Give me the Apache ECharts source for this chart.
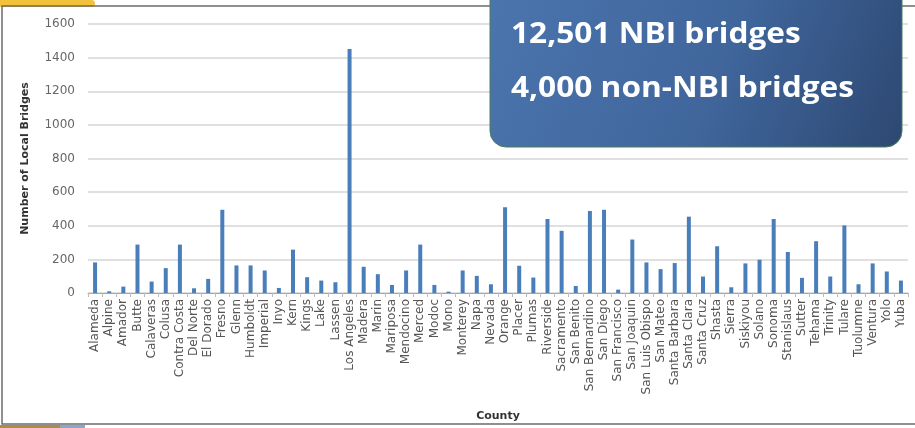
<!DOCTYPE html>
<html>
<head>
<meta charset="utf-8">
<script src="https://cdn.jsdelivr.net/npm/echarts@6/dist/echarts.min.js"></script>
<style>html,body{margin:0;padding:0;background:#fff;}#c{width:915px;height:428px;}</style>
</head>
<body>
<div id="c"></div>
<script>
const counties = ["Alameda","Alpine","Amador","Butte","Calaveras","Colusa","Contra Costa","Del Norte","El Dorado","Fresno","Glenn","Humboldt","Imperial","Inyo","Kern","Kings","Lake","Lassen","Los Angeles","Madera","Marin","Mariposa","Mendocino","Merced","Modoc","Mono","Monterey","Napa","Nevada","Orange","Placer","Plumas","Riverside","Sacramento","San Benito","San Bernardino","San Diego","San Francisco","San Joaquin","San Luis Obispo","San Mateo","Santa Barbara","Santa Clara","Santa Cruz","Shasta","Sierra","Siskiyou","Solano","Sonoma","Stanislaus","Sutter","Tehama","Trinity","Tulare","Tuolumne","Ventura","Yolo","Yuba"];
const localBridges = [182,10,38,288,68,148,288,28,84,495,164,164,134,30,258,94,74,64,1452,156,112,48,134,288,48,8,134,102,52,510,162,92,440,370,42,488,495,20,318,182,142,178,454,98,278,34,176,198,440,244,90,308,98,402,52,176,128,74];
const yTicks = [0,200,400,600,800,1000,1200,1400,1600];
const boxLines = ["12,501 NBI bridges","4,000 non-NBI bridges"];
const yName = "Number of Local Bridges";
const xName = "County";

const chart = echarts.init(document.getElementById('c'), null, {renderer:'canvas'});
chart.setOption({
  animation:false,
  backgroundColor:'#fff',
  grid:{left:88,right:7,top:24,bottom:135,containLabel:false},
  xAxis:{
    type:'category',
    data:counties,
    name:xName,
    nameLocation:'middle',
    nameGap:118,
    nameTextStyle:{fontFamily:'DejaVu Sans',fontWeight:'bold',fontSize:11,color:'#333'},
    axisLine:{lineStyle:{color:'#a6a6a6',width:1}},
    axisTick:{show:true,length:4,lineStyle:{color:'#bbb'}},
    axisLabel:{interval:0,rotate:90,fontFamily:'DejaVu Sans',fontSize:12,color:'#555',margin:6}
  },
  yAxis:{
    type:'value',
    min:yTicks[0],
    max:yTicks[yTicks.length-1],
    interval:yTicks[1]-yTicks[0],
    name:yName,
    nameLocation:'middle',
    nameGap:57,
    nameTextStyle:{fontFamily:'DejaVu Sans',fontWeight:'bold',fontSize:11,color:'#333'},
    axisLine:{show:false},
    axisTick:{show:false},
    axisLabel:{fontFamily:'DejaVu Sans',fontSize:12,color:'#666',margin:13,formatter:function(v){return String(v);}},
    splitLine:{lineStyle:{color:'#d6d6d6',width:1.6}}
  },
  series:[{
    type:'bar',
    data:localBridges,
    barWidth:4,
    itemStyle:{color:'#4a7ebb'}
  }],
  graphic:[
    {type:'rect',silent:true,z:0,shape:{x:0,y:0,width:95,height:7,r:[0,6,6,0]},style:{fill:'#f2c23a'}},
    {type:'rect',silent:true,z:1,shape:{x:2,y:6,width:930,height:418},style:{fill:null,stroke:'#6b6b6b',lineWidth:1.5}},
    {type:'rect',silent:true,z:0,shape:{x:0,y:425,width:60,height:3},style:{fill:'#b08a4a'}},
    {type:'rect',silent:true,z:0,shape:{x:60,y:425,width:25,height:3},style:{fill:'#8aa6c8'}},
    {type:'rect',silent:true,z:100,
      shape:{x:490,y:-16,width:412,height:163,r:16},
      style:{
        fill:new echarts.graphic.LinearGradient(0,0,1,1,[
          {offset:0,color:'#4b75ae'},
          {offset:0.55,color:'#40669c'},
          {offset:1,color:'#2d4872'}
        ]),
        stroke:'#4d7d5a',lineWidth:1
      }
    },
    {type:'text',silent:true,z:101,x:511,y:35,scaleX:1.13,
      style:{text:boxLines[0],fill:'#fff',font:'bold 28px "Open Sans"',verticalAlign:'middle',align:'left'}},
    {type:'text',silent:true,z:101,x:511,y:89,scaleX:1.13,
      style:{text:boxLines[1],fill:'#fff',font:'bold 28px "Open Sans"',verticalAlign:'middle',align:'left'}}
  ]
});
</script>
</body>
</html>
